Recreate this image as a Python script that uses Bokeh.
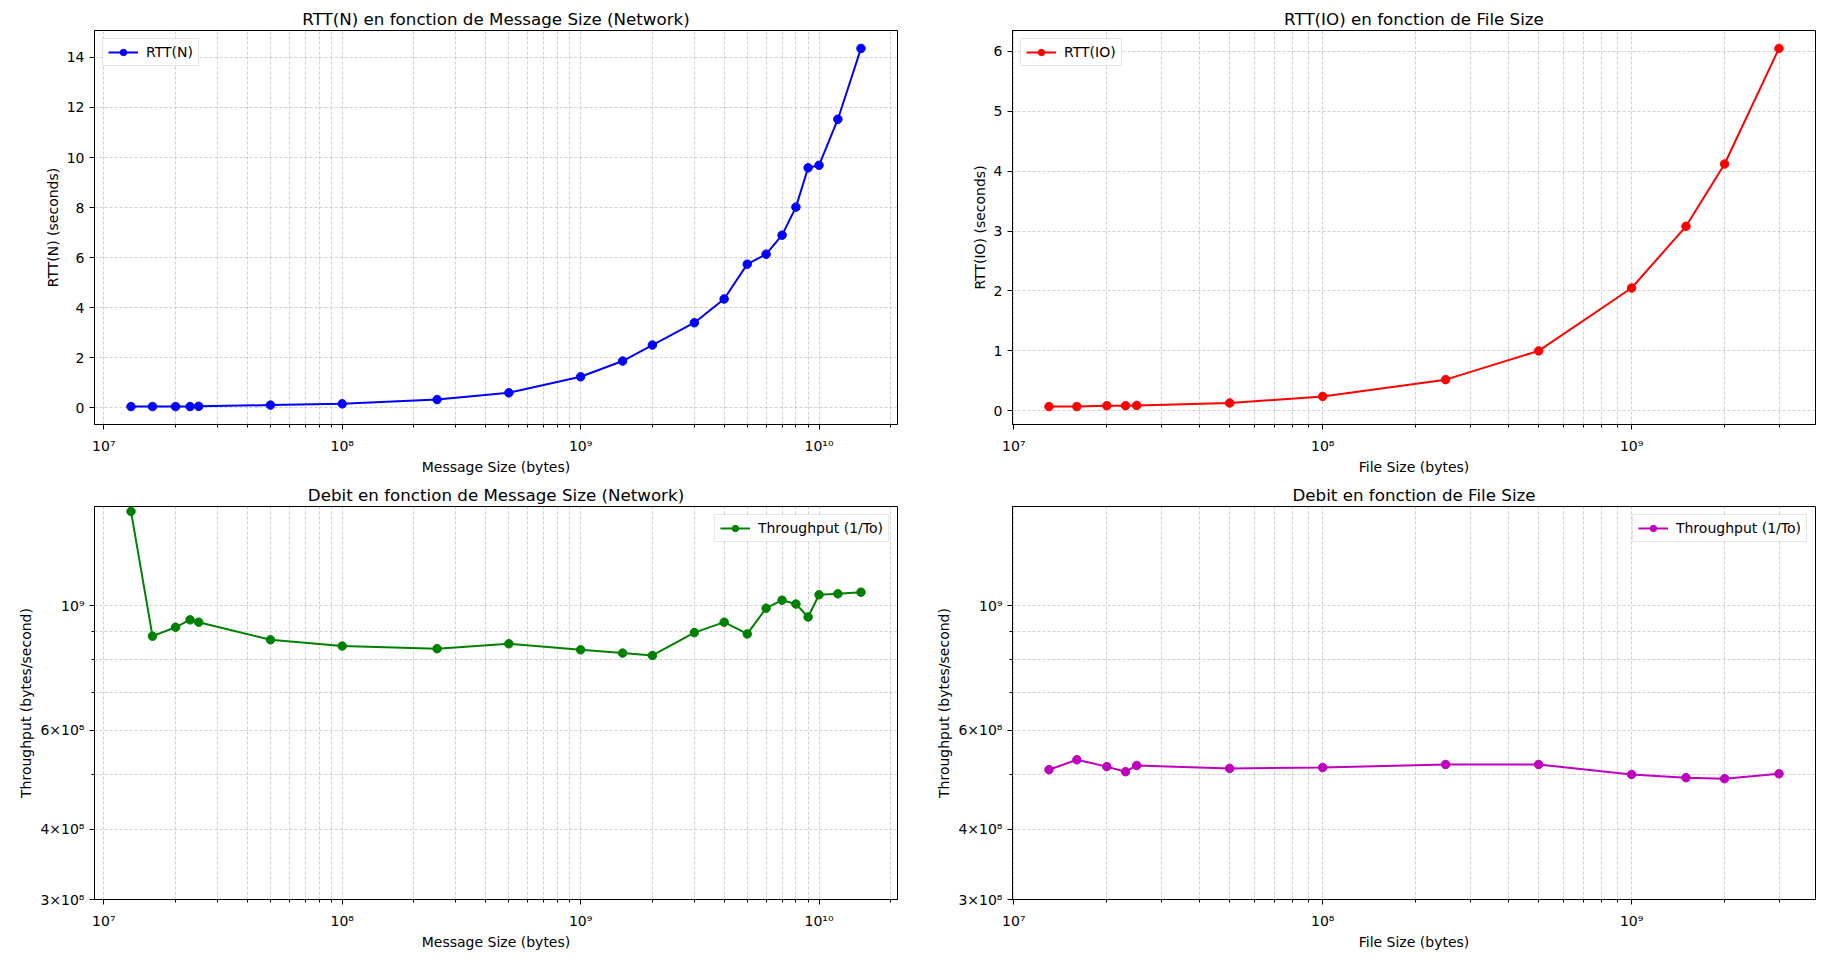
import numpy as np
from bokeh.plotting import figure
from bokeh.models import Range1d, FixedTicker
from bokeh.layouts import column, row
from bokeh.embed import file_html
from bokeh.resources import INLINE

# Network measurements
net_size = [1.3e7, 1.6e7, 2e7, 2.3e7, 2.5e7, 5e7, 1e8, 2.5e8, 5e8, 1e9, 1.5e9,
            2e9, 3e9, 4e9, 5e9, 6e9, 7e9, 8e9, 9e9, 1e10, 1.2e10, 1.5e10]
rtt_net = [0.05, 0.05, 0.05, 0.05, 0.06, 0.11, 0.16, 0.33, 0.60, 1.24, 1.87,
           2.51, 3.40, 4.35, 5.74, 6.14, 6.90, 8.02, 9.59, 9.69, 11.53, 14.36]
thr_net = [1.47e9, 8.82e8, 9.15e8, 9.43e8, 9.34e8, 8.69e8, 8.47e8, 8.38e8, 8.55e8,
           8.34e8, 8.23e8, 8.15e8, 8.95e8, 9.34e8, 8.90e8, 9.89e8, 1.022e9, 1.006e9,
           9.54e8, 1.045e9, 1.049e9, 1.056e9]

# IO measurements
io_size = [1.3e7, 1.6e7, 2e7, 2.3e7, 2.5e7, 5e7, 1e8, 2.5e8, 5e8, 1e9, 1.5e9, 2e9, 3e9]
rtt_io = [0.07, 0.07, 0.085, 0.085, 0.09, 0.13, 0.24, 0.52, 1.0, 2.05, 3.08, 4.12, 6.05]
thr_io = [5.105e8, 5.317e8, 5.17e8, 5.063e8, 5.195e8, 5.132e8, 5.15e8, 5.215e8,
          5.215e8, 5.007e8, 4.94e8, 4.92e8, 5.02e8]

thr_limits = (3e8, 1.5e9)

SUP = str.maketrans("0123456789", "⁰¹²³⁴⁵⁶⁷⁸⁹")
FONT = "DejaVu Sans"
GRID = "#b0b0b0"


def pow10(e, m=1):
    s = "10" + str(e).translate(SUP)
    return s if m == 1 else f"{m}×{s}"


def log_range(vals):
    lo, hi = np.log10(min(vals)), np.log10(max(vals))
    pad = 0.05 * (hi - lo)
    return Range1d(10 ** (lo - pad), 10 ** (hi + pad))


def lin_range(vals):
    lo, hi = min(vals), max(vals)
    pad = 0.05 * (hi - lo)
    return Range1d(lo - pad, hi + pad)


def make_fig(title, xlabel, ylabel, x, y, y_log, left, right, top, bottom, height):
    p = figure(width=908, height=height, output_backend="svg", toolbar_location=None,
               x_axis_type="log", y_axis_type="log" if y_log else "linear",
               x_range=log_range(x),
               y_range=Range1d(*thr_limits) if y_log else lin_range(y),
               min_border_left=left, min_border_right=right,
               min_border_top=top, min_border_bottom=bottom)
    p.title.text = title
    p.title.align = "center"
    p.title.text_font = FONT
    p.title.text_font_size = "16.7px"
    p.title.text_font_style = "normal"
    p.title.text_color = "black"
    p.title.standoff = 4

    p.outline_line_color = "black"
    p.outline_line_width = 1
    p.background_fill_color = "white"
    p.border_fill_color = "white"

    decades = [10 ** e for e in range(6, 12)]
    minors = [k * 10 ** e for e in range(6, 11) for k in range(2, 10)]
    p.xaxis.ticker = FixedTicker(ticks=decades, minor_ticks=minors)
    p.xaxis.major_label_overrides = {float(10 ** e): pow10(e) for e in range(6, 12)}

    if y_log:
        p.yaxis.ticker = FixedTicker(ticks=[3e8, 4e8, 6e8, 1e9],
                                     minor_ticks=[5e8, 7e8, 8e8, 9e8])
        p.yaxis.major_label_overrides = {3e8: pow10(8, 3), 4e8: pow10(8, 4),
                                         6e8: pow10(8, 6), 1e9: pow10(9)}
        p.ygrid.minor_grid_line_color = GRID
        p.ygrid.minor_grid_line_dash = "3 2"
        p.ygrid.minor_grid_line_width = 0.6
    else:
        p.yaxis.ticker = FixedTicker(ticks=list(range(0, int(max(y)) + 2, 2 if max(y) > 8 else 1)))
        p.yaxis.minor_tick_line_color = None

    p.xaxis.axis_label = xlabel
    p.yaxis.axis_label = ylabel
    for ax in p.axis:
        ax.axis_label_text_font = FONT
        ax.axis_label_text_font_size = "14px"
        ax.axis_label_text_font_style = "normal"
        ax.axis_label_text_color = "black"
        ax.axis_label_standoff = 3
        ax.major_label_text_font = FONT
        ax.major_label_text_font_size = "14px"
        ax.major_label_text_color = "black"
        ax.major_label_standoff = 5
        ax.axis_line_color = "black"
        ax.major_tick_line_color = "black"
        ax.minor_tick_line_color = ax.minor_tick_line_color and "black"
        ax.major_tick_out = 5
        ax.major_tick_in = 0
        ax.minor_tick_out = 3
        ax.minor_tick_in = 0

    p.xaxis.major_label_standoff = 8
    p.xaxis.axis_label_standoff = 2

    p.grid.grid_line_color = GRID
    p.grid.grid_line_dash = "3 2"
    p.grid.grid_line_width = 0.6
    p.xgrid.minor_grid_line_color = GRID
    p.xgrid.minor_grid_line_dash = "3 2"
    p.xgrid.minor_grid_line_width = 0.6
    return p


def add_series(p, x, y, color, label, loc):
    p.line(x, y, line_width=2, color=color, legend_label=label)
    p.scatter(x, y, size=8.5, color=color, legend_label=label)
    lg = p.legend[0]
    lg.location = loc
    lg.margin = 8
    lg.padding = 5
    lg.spacing = 0
    lg.glyph_width = 30
    lg.glyph_height = 16
    lg.label_height = 16
    lg.label_standoff = 8
    lg.label_text_font = FONT
    lg.label_text_font_size = "14px"
    lg.label_text_color = "black"
    lg.border_line_color = "#cccccc"
    lg.border_line_width = 1
    lg.background_fill_alpha = 0.8


p1 = make_fig("RTT(N) en fonction de Message Size (Network)", "Message Size (bytes)",
              "RTT(N) (seconds)", net_size, rtt_net, False, 94, 11, 30, 52, 477)
add_series(p1, net_size, rtt_net, "#0000ff", "RTT(N)", "top_left")

p2 = make_fig("RTT(IO) en fonction de File Size", "File Size (bytes)",
              "RTT(IO) (seconds)", io_size, rtt_io, False, 104, 1, 30, 52, 477)
add_series(p2, io_size, rtt_io, "#ff0000", "RTT(IO)", "top_left")

p3 = make_fig("Debit en fonction de Message Size (Network)", "Message Size (bytes)",
              "Throughput (bytes/second)", net_size, thr_net, True, 94, 11, 29, 52, 475)
add_series(p3, net_size, thr_net, "#008000", "Throughput (1/To)", "top_right")

p4 = make_fig("Debit en fonction de File Size", "File Size (bytes)",
              "Throughput (bytes/second)", io_size, thr_io, True, 104, 1, 29, 52, 475)
add_series(p4, io_size, thr_io, "#bf00bf", "Throughput (1/To)", "top_right")

layout = column(row(p1, p2), row(p3, p4))

with open("out.html", "w") as f:
    f.write(file_html(layout, INLINE, title="RTT et Debit"))
